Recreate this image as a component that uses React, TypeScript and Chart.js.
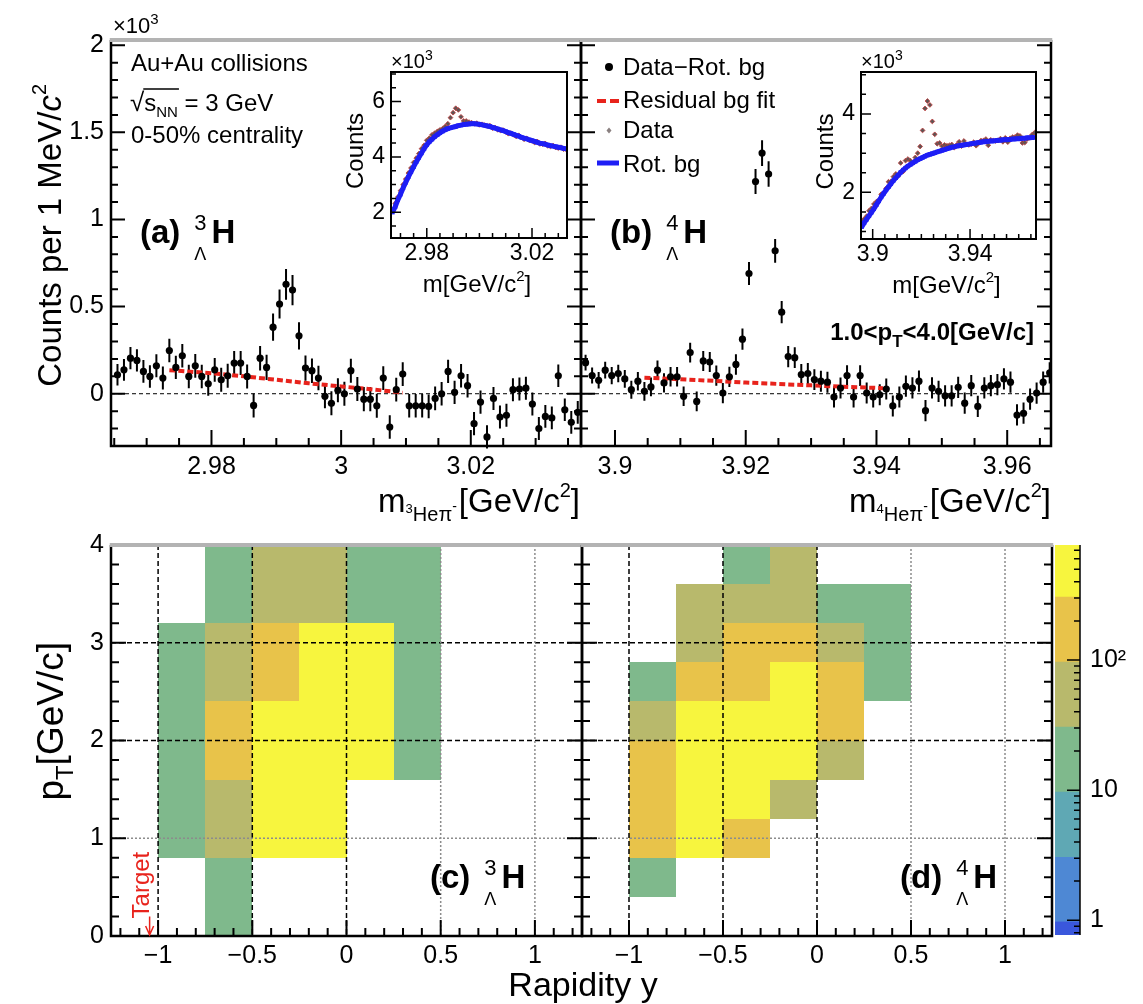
import { useEffect, useRef } from "react";
import { Chart, registerables } from "chart.js";

Chart.register(...registerables);

const PAGE_W = 1143;
const PAGE_H = 1004;
const FONT = '"Liberation Sans", Arimo, Arial, Helvetica, sans-serif';
const RED = "#e8231c";
const BLUE = "#1e1ef5";
const FRAME_TOP = "#b3b3b3";
// thickness reserved for an axis that carries tick labels
const AXIS_BAND = 60;

/* ---------- invariant-mass spectra, 1 MeV/c² bins, counts ×10³ ---------- */
const BIN = 0.001;

const H3L_FIRST_BIN = 2.9655;
const H3L_SIGNAL = [
  0.109, 0.137, 0.204, 0.191, 0.128, 0.099, 0.16, 0.09, 0.248, 0.151,
  0.218, 0.099, 0.16, 0.099, 0.057, 0.137, 0.08, 0.103, 0.176, 0.176,
  0.099, -0.067, 0.204, 0.151, 0.382, 0.515, 0.628, 0.595, 0.332, 0.147,
  0.132, 0.09, -0.015, -0.055, 0.02, 0.0, 0.132, 0.027, -0.031, -0.031,
  -0.069, 0.09, -0.191, 0.023, 0.113, -0.069, -0.069, -0.069, -0.073, -0.027,
  0.0, 0.128, 0.008, 0.103, 0.046, -0.172, -0.048, -0.248, -0.027, -0.134,
  -0.124, 0.023, 0.027, 0.032, -0.059, -0.2, -0.13, -0.139, 0.103, -0.092,
  -0.164, -0.107,
];
const H3L_SIGNAL_ERR = [
  0.062, 0.063, 0.064, 0.064, 0.065, 0.065, 0.066, 0.066, 0.067, 0.067,
  0.067, 0.068, 0.068, 0.068, 0.068, 0.068, 0.069, 0.069, 0.069, 0.069,
  0.069, 0.069, 0.07, 0.072, 0.078, 0.083, 0.088, 0.087, 0.078, 0.072,
  0.07, 0.07, 0.069, 0.069, 0.069, 0.069, 0.069, 0.069, 0.069, 0.069,
  0.069, 0.068, 0.068, 0.068, 0.068, 0.068, 0.068, 0.068, 0.068, 0.068,
  0.067, 0.067, 0.067, 0.067, 0.067, 0.067, 0.067, 0.067, 0.066, 0.066,
  0.066, 0.066, 0.066, 0.066, 0.066, 0.066, 0.065, 0.065, 0.065, 0.065,
  0.065, 0.065,
];
const H3L_RESID_M = [2.9735, 2.98, 2.985, 2.99, 2.995, 3.0, 3.005, 3.0095];
const H3L_RESID_Y = [0.135, 0.118, 0.1, 0.08, 0.06, 0.042, 0.024, 0.006];

const H4L_FIRST_BIN = 3.8955;
const H4L_SIGNAL = [
  0.178, 0.104, 0.077, 0.135, 0.104, 0.116, 0.085, 0.023, 0.072, 0.014,
  0.039, 0.135, 0.062, 0.097, 0.097, -0.015, 0.236, -0.044, 0.188, 0.182,
  0.104, 0.004, 0.097, 0.168, 0.313, 0.69, 1.218, 1.381, 1.261, 0.82,
  0.468, 0.213, 0.207, 0.11, 0.116, 0.081, 0.072, 0.066, -0.019, 0.033,
  0.104, -0.019, 0.104, 0.004, -0.019, -0.006, 0.027, -0.07, -0.019, 0.043,
  0.033, 0.072, -0.097, 0.033, 0.014, -0.012, -0.012, 0.037, -0.054, 0.046,
  -0.073, 0.033, 0.046, 0.052, 0.085, 0.066, -0.122, -0.112, -0.031, 0.004,
  0.066, 0.12,
];
const H4L_SIGNAL_ERR = [
  0.045, 0.046, 0.047, 0.048, 0.049, 0.05, 0.051, 0.052, 0.053, 0.054,
  0.054, 0.055, 0.055, 0.056, 0.056, 0.056, 0.057, 0.057, 0.057, 0.057,
  0.058, 0.058, 0.058, 0.059, 0.061, 0.066, 0.072, 0.074, 0.073, 0.068,
  0.064, 0.061, 0.06, 0.06, 0.06, 0.06, 0.06, 0.06, 0.06, 0.06,
  0.06, 0.06, 0.06, 0.06, 0.06, 0.06, 0.06, 0.06, 0.06, 0.061,
  0.061, 0.061, 0.061, 0.061, 0.061, 0.061, 0.061, 0.061, 0.061, 0.061,
  0.061, 0.061, 0.061, 0.061, 0.061, 0.061, 0.061, 0.061, 0.061, 0.061,
  0.061, 0.061,
];
const H4L_RESID_M = [3.9045, 3.91, 3.915, 3.92, 3.925, 3.93, 3.935, 3.941];
const H4L_RESID_Y = [0.092, 0.083, 0.074, 0.064, 0.056, 0.048, 0.04, 0.032];

/* ---------- inset spectra: data and rotated background, counts ×10³ ---------- */
const H3L_INSET_FIRST_BIN = 2.967;
const H3L_INSET_DATA = [
  2.1, 2.32, 2.55, 2.78, 3.0, 3.2, 3.42, 3.6, 3.8, 3.96,
  4.12, 4.3, 4.42, 4.6, 4.68, 4.8, 4.86, 4.92, 4.98, 5.02,
  5.1, 5.2, 5.42, 5.6, 5.76, 5.7, 5.45, 5.3, 5.3, 5.26,
  5.24, 5.2, 5.22, 5.16, 5.18, 5.15, 5.12, 5.13, 5.04, 5.06,
  4.98, 4.96, 4.97, 4.9, 4.84, 4.86, 4.8, 4.74, 4.78, 4.7,
  4.64, 4.67, 4.6, 4.58, 4.52, 4.56, 4.47, 4.46, 4.49, 4.4,
  4.38, 4.41, 4.34, 4.32, 4.35, 4.28, 4.27,
];
const H3L_INSET_ROTBG = [
  2.0, 2.2, 2.45, 2.65, 2.88, 3.08, 3.28, 3.46, 3.64, 3.82,
  3.98, 4.14, 4.3, 4.44, 4.55, 4.64, 4.73, 4.8, 4.87, 4.93,
  4.98, 5.02, 5.05, 5.08, 5.1, 5.13, 5.15, 5.17, 5.18, 5.19,
  5.2, 5.2, 5.19, 5.18, 5.16, 5.14, 5.12, 5.1, 5.07, 5.04,
  5.01, 4.98, 4.95, 4.92, 4.88, 4.85, 4.82, 4.78, 4.75, 4.71,
  4.68, 4.65, 4.62, 4.59, 4.56, 4.53, 4.5, 4.48, 4.46, 4.43,
  4.41, 4.39, 4.37, 4.35, 4.33, 4.31, 4.29,
];
const H4L_INSET_FIRST_BIN = 3.8955;
const H4L_INSET_DATA = [
  1.28, 1.32, 1.39, 1.53, 1.59, 1.7, 1.76, 1.8, 1.95, 1.98,
  2.1, 2.27, 2.28, 2.4, 2.47, 2.42, 2.75, 2.53, 2.81, 2.85,
  2.81, 2.75, 2.89, 3.0, 3.17, 3.58, 4.14, 4.33, 4.23, 3.81,
  3.48, 3.24, 3.26, 3.18, 3.21, 3.19, 3.2, 3.22, 3.14, 3.21,
  3.29, 3.18, 3.31, 3.22, 3.21, 3.23, 3.28, 3.19, 3.25, 3.32,
  3.32, 3.36, 3.2, 3.34, 3.32, 3.31, 3.32, 3.37, 3.29, 3.39,
  3.28, 3.38, 3.41, 3.41, 3.46, 3.44, 3.26, 3.27, 3.36, 3.39,
  3.47, 3.52,
];
const H4L_INSET_ROTBG = [
  1.12, 1.22, 1.31, 1.4, 1.49, 1.58, 1.68, 1.78, 1.88, 1.97,
  2.06, 2.14, 2.22, 2.3, 2.37, 2.44, 2.51, 2.57, 2.62, 2.67,
  2.71, 2.75, 2.79, 2.83, 2.86, 2.89, 2.92, 2.95, 2.97, 2.99,
  3.01, 3.03, 3.05, 3.07, 3.09, 3.11, 3.13, 3.15, 3.16, 3.18,
  3.19, 3.2, 3.21, 3.22, 3.23, 3.24, 3.25, 3.26, 3.27, 3.28,
  3.29, 3.29, 3.3, 3.31, 3.31, 3.32, 3.33, 3.33, 3.34, 3.34,
  3.35, 3.35, 3.36, 3.36, 3.37, 3.37, 3.38, 3.38, 3.39, 3.39,
  3.4, 3.4,
];

/* ---------- pT vs rapidity yield maps (rows: low → high pT) ---------- */
const RAPIDITY_EDGES = [-1, -0.75, -0.5, -0.25, 0, 0.25, 0.5];
const H3L_PT_EDGES = [0, 0.8, 1.6, 2.4, 3.2, 4.0];
const H3L_YIELD = [
  [0, 14, 0, 0, 0, 0],
  [19, 62, 420, 470, 0, 0],
  [26, 180, 610, 690, 380, 22],
  [17, 75, 240, 520, 340, 16],
  [0, 12, 48, 41, 21, 11],
];
const H4L_PT_EDGES = [0, 0.4, 0.8, 1.2, 1.6, 2.0, 2.4, 2.8, 3.2, 3.6, 4.0];
const H4L_YIELD = [
  [0, 0, 0, 0, 0, 0],
  [15, 0, 0, 0, 0, 0],
  [150, 360, 130, 0, 0, 0],
  [210, 520, 430, 70, 0, 0],
  [260, 640, 700, 480, 55, 0],
  [80, 580, 650, 560, 190, 0],
  [20, 230, 280, 400, 120, 14],
  [0, 60, 200, 160, 45, 18],
  [0, 50, 42, 38, 20, 12],
  [0, 0, 19, 35, 0, 0],
];
const TARGET_RAPIDITY = -1.045;
const Z_LEVELS = [0.77, 0.97, 3.05, 9.66, 30.5, 96.5, 305, 767];
const Z_COLORS = ["#3a57dc", "#4e88d4", "#5fa8b4", "#7fb98c", "#b8b96c", "#e8c34a", "#f7f53e"];

/* ---------- axis ranges, tick values and labels ---------- */
const COUNT_RANGE = [-0.3, 2.03];
const COUNT_TICKS = [0, 0.5, 1, 1.5, 2];
const COUNT_LABELS = ["0", "0.5", "1", "1.5", "2"];
const H3L_M_RANGE = [2.9645, 3.037];
const H3L_M_TICKS = [2.98, 3.0, 3.02];
const H3L_M_LABELS = ["2.98", "3", "3.02"];
const H4L_M_RANGE = [3.8948, 3.9667];
const H4L_M_TICKS = [3.9, 3.92, 3.94, 3.96];
const H4L_M_LABELS = ["3.9", "3.92", "3.94", "3.96"];

const H3L_INSET_X_RANGE = [2.9664, 3.0333];
const H3L_INSET_Y_RANGE = [1.07, 7.07];
const H3L_INSET_X_TICKS = [2.98, 3.02];
const H3L_INSET_X_LABELS = ["2.98", "3.02"];
const H3L_INSET_Y_TICKS = [2, 4, 6];
const H3L_INSET_Y_LABELS = ["2", "4", "6"];
const H4L_INSET_X_RANGE = [3.8952, 3.9671];
const H4L_INSET_Y_RANGE = [0.81, 5.07];
const H4L_INSET_X_TICKS = [3.9, 3.94];
const H4L_INSET_X_LABELS = ["3.9", "3.94"];
const H4L_INSET_Y_TICKS = [2, 4];
const H4L_INSET_Y_LABELS = ["2", "4"];

const RAPIDITY_RANGE = [-1.25, 1.25];
const RAPIDITY_TICKS = [-1, -0.5, 0, 0.5, 1];
const RAPIDITY_LABELS = ["\u22121", "\u22120.5", "0", "0.5", "1"];
const PT_RANGE = [0, 4];
const PT_TICKS = [0, 1, 2, 3, 4];
const PT_LABELS = ["0", "1", "2", "3", "4"];
const Z_TICKS = [1, 10, 100];
const Z_LABELS = ["1", "10", "10\u00b2"];

// grid lines on the yield maps
const GRID_DASHED_Y = [-1, -0.5, 0];
const GRID_DOTTED_Y = [0.5, 1];
const GRID_DASHED_PT = [2, 3];
const GRID_DOTTED_PT = [1];

/* ---------- layout (plot-area boxes in page pixels) ---------- */
type Box = { l: number; r: number; t: number; b: number };
const BOX_A: Box = { l: 111, r: 581, t: 40, b: 446 };
const BOX_B: Box = { l: 581, r: 1051, t: 40, b: 446 };
const BOX_IA: Box = { l: 391, r: 567, t: 72, b: 238 };
const BOX_IB: Box = { l: 861, r: 1036, t: 72, b: 239 };
const BOX_C: Box = { l: 111, r: 582, t: 545, b: 936 };
const BOX_D: Box = { l: 582, r: 1052, t: 545, b: 936 };
const BOX_Z: Box = { l: 1055, r: 1080, t: 545, b: 935 };

// layout padding so that the plot area lands on the box, leaving room for labelled axes
function padOf(b: Box, band: { left?: number; right?: number; bottom?: number }) {
  return {
    left: b.l - (band.left ?? 0),
    top: b.t,
    right: PAGE_W - b.r - (band.right ?? 0),
    bottom: PAGE_H - b.b - (band.bottom ?? 0),
  };
}

type AxisOpts = {
  min: number;
  max: number;
  ticks: number[];
  labels?: string[];
  pad?: number;
  size?: number;
  position?: string;
  type?: string;
};

function fixedAxis(o: AxisOpts) {
  const band = o.labels ? AXIS_BAND : 0;
  const ax: any = {
    type: o.type ?? "linear",
    min: o.min,
    max: o.max,
    bounds: "data",
    afterFit: (s: any) => {
      if (s.isHorizontal()) s.height = band;
      else s.width = band;
    },
    afterBuildTicks: (s: any) => {
      s.ticks = o.ticks.map((v) => ({ value: v }));
    },
    grid: { display: false, drawTicks: false },
    border: { display: false },
    ticks: {
      display: !!o.labels,
      autoSkip: false,
      maxRotation: 0,
      minRotation: 0,
      padding: o.pad ?? 6,
      color: "#000",
      font: { family: FONT, size: o.size ?? 25 },
      callback: (_v: any, i: number) => (o.labels ? o.labels[i] : ""),
    },
  };
  if (o.position) ax.position = o.position;
  return ax;
}

function baseOptions(padding: any) {
  return {
    responsive: false,
    animation: false as const,
    events: [] as any[],
    layout: { padding },
    plugins: {
      legend: { display: false },
      tooltip: { enabled: false },
      title: { display: false },
    },
  };
}

/* ---------- text helpers ---------- */
type Seg = {
  t: string;
  size: number;
  dy?: number;
  bold?: boolean;
  italic?: boolean;
  stack?: boolean;
  gap?: number;
};

function fontOf(s: Seg) {
  return `${s.italic ? "italic " : ""}${s.bold ? "bold " : ""}${s.size}px ${FONT}`;
}

function drawRich(ctx: any, x: number, y: number, segs: Seg[], align = "left", color = "#000") {
  let cx = 0;
  let lastStart = 0;
  let lastW = 0;
  const items: { s: Seg; x: number; w: number }[] = [];
  for (const s of segs) {
    ctx.font = fontOf(s);
    const w = ctx.measureText(s.t).width;
    if (s.stack) {
      items.push({ s, x: lastStart, w });
      lastW = Math.max(lastW, w);
      cx = lastStart + lastW;
    } else {
      const start = cx + (s.gap ?? 0);
      items.push({ s, x: start, w });
      lastStart = start;
      lastW = w;
      cx = start + w;
    }
  }
  const x0 = align === "left" ? x : align === "right" ? x - cx : x - cx / 2;
  ctx.save();
  ctx.fillStyle = color;
  ctx.textAlign = "left";
  ctx.textBaseline = "alphabetic";
  for (const it of items) {
    ctx.font = fontOf(it.s);
    ctx.fillText(it.s.t, x0 + it.x, y + (it.s.dy ?? 0));
  }
  ctx.restore();
  return { x0, width: cx, items };
}

function drawRichUp(ctx: any, x: number, y: number, segs: Seg[], align = "left", color = "#000") {
  ctx.save();
  ctx.translate(x, y);
  ctx.rotate(-Math.PI / 2);
  drawRich(ctx, 0, 0, segs, align, color);
  ctx.restore();
}

function hypLabel(tag: string, a: string): Seg[] {
  return [
    { t: tag, size: 33, bold: true },
    { t: a, size: 22, dy: -13, gap: 14 },
    { t: "\u039b", size: 18, dy: 17, stack: true },
    { t: "H", size: 33, bold: true, gap: 5 },
  ];
}

function massTitle(a: string): Seg[] {
  return [
    { t: "m", size: 33 },
    { t: a, size: 13, dy: 1 },
    { t: "He", size: 20, dy: 9 },
    { t: "\u03c0", size: 20, dy: 9 },
    { t: "-", size: 14, dy: -1 },
    { t: "[GeV/c", size: 33, gap: 2 },
    { t: "2", size: 20, dy: -15 },
    { t: "]", size: 33 },
  ];
}

/* ---------- drawing helpers ---------- */
function drawFrame(chart: any, topColor: string, width = 2.5, topWidth = 4) {
  const { ctx, chartArea: a } = chart;
  ctx.save();
  ctx.setLineDash([]);
  ctx.strokeStyle = "#000";
  ctx.lineWidth = width;
  ctx.beginPath();
  ctx.moveTo(a.left, a.top);
  ctx.lineTo(a.left, a.bottom);
  ctx.lineTo(a.right, a.bottom);
  ctx.lineTo(a.right, a.top);
  ctx.stroke();
  ctx.strokeStyle = topColor;
  ctx.lineWidth = topWidth;
  ctx.beginPath();
  ctx.moveTo(a.left - width / 2, a.top);
  ctx.lineTo(a.right + width / 2, a.top);
  ctx.stroke();
  ctx.restore();
}

function drawTickMarks(
  chart: any,
  axisId: string,
  sides: string[],
  step: number,
  majors: number[],
  majorLen: number,
  minorLen: number,
  lw = 2,
) {
  const { ctx, chartArea: a } = chart;
  const s = chart.scales[axisId];
  const k0 = Math.ceil(s.min / step - 1e-6);
  const k1 = Math.floor(s.max / step + 1e-6);
  ctx.save();
  ctx.setLineDash([]);
  ctx.strokeStyle = "#000";
  ctx.lineWidth = lw;
  ctx.beginPath();
  for (let k = k0; k <= k1; k++) {
    const v = k * step;
    const major = majors.some((m) => Math.abs(m - v) < step * 1e-3);
    const len = major ? majorLen : minorLen;
    const p = s.getPixelForValue(v);
    const edgeLo = s.isHorizontal() ? a.left : a.top;
    const edgeHi = s.isHorizontal() ? a.right : a.bottom;
    if (Math.abs(p - edgeLo) < 1.5 || Math.abs(p - edgeHi) < 1.5) continue;
    for (const side of sides) {
      if (side === "left") {
        ctx.moveTo(a.left, p);
        ctx.lineTo(a.left + len, p);
      } else if (side === "right") {
        ctx.moveTo(a.right, p);
        ctx.lineTo(a.right - len, p);
      } else {
        ctx.moveTo(p, a.bottom);
        ctx.lineTo(p, a.bottom - len);
      }
    }
  }
  ctx.stroke();
  ctx.restore();
}

/* ---------- chart builders ---------- */
type MassPanel = {
  box: Box;
  xRange: number[];
  first: number;
  signal: number[];
  err: number[];
  fitM: number[];
  fitY: number[];
  xTicks: number[];
  xLabels: string[];
  yLabels?: string[];
  decorate: (chart: any) => void;
};

function massPanel(canvas: HTMLCanvasElement, p: MassPanel) {
  const points = p.signal.map((y, i) => ({ x: p.first + i * BIN, y }));
  const fit = p.fitM.map((x, i) => ({ x, y: p.fitY[i] }));
  const padding = padOf(p.box, { left: p.yLabels ? AXIS_BAND : 0, bottom: AXIS_BAND });
  return new Chart(canvas, {
    type: "scatter",
    data: {
      datasets: [
        {
          data: points,
          pointRadius: 3.6,
          pointHoverRadius: 3.6,
          pointBackgroundColor: "#000",
          pointBorderWidth: 0,
        },
        {
          type: "line",
          data: fit,
          borderColor: RED,
          borderWidth: 4,
          borderDash: [6, 3],
          pointRadius: 0,
          fill: false,
          tension: 0,
        },
      ],
    } as any,
    options: {
      ...baseOptions(padding),
      scales: {
        x: fixedAxis({ min: p.xRange[0], max: p.xRange[1], ticks: p.xTicks, labels: p.xLabels, pad: 6 }),
        y: fixedAxis({ min: COUNT_RANGE[0], max: COUNT_RANGE[1], ticks: COUNT_TICKS, labels: p.yLabels, pad: 7 }),
      },
    } as any,
    plugins: [
      {
        id: "massPanelDecor",
        beforeDatasetsDraw(chart: any) {
          const { ctx, chartArea: a } = chart;
          const xs = chart.scales.x;
          const ys = chart.scales.y;
          ctx.save();
          ctx.strokeStyle = "#000";
          ctx.lineWidth = 1;
          ctx.setLineDash([4, 3]);
          const y0 = ys.getPixelForValue(0);
          ctx.beginPath();
          ctx.moveTo(a.left, y0);
          ctx.lineTo(a.right, y0);
          ctx.stroke();
          ctx.setLineDash([]);
          ctx.lineWidth = 2;
          ctx.beginPath();
          p.signal.forEach((v, i) => {
            const px = xs.getPixelForValue(p.first + i * BIN);
            ctx.moveTo(px, ys.getPixelForValue(v - p.err[i]));
            ctx.lineTo(px, ys.getPixelForValue(v + p.err[i]));
          });
          ctx.stroke();
          ctx.restore();
        },
        afterDraw(chart: any) {
          drawFrame(chart, FRAME_TOP);
          drawTickMarks(chart, "y", ["left", "right"], 0.1, COUNT_TICKS, 14, 7);
          drawTickMarks(chart, "x", ["bottom"], 0.005, p.xTicks, 16, 8);
          p.decorate(chart);
        },
      },
    ],
  });
}

type InsetPanel = {
  box: Box;
  xRange: number[];
  yRange: number[];
  first: number;
  data: number[];
  rotbg: number[];
  xTicks: number[];
  xLabels: string[];
  yTicks: number[];
  yLabels: string[];
};

function insetPanel(canvas: HTMLCanvasElement, p: InsetPanel) {
  const dataPts = p.data.map((y, i) => ({ x: p.first + i * BIN, y }));
  const bgPts = p.rotbg.map((y, i) => ({ x: p.first + i * BIN, y }));
  const padding = padOf(p.box, { left: AXIS_BAND, bottom: AXIS_BAND });
  return new Chart(canvas, {
    type: "scatter",
    data: {
      datasets: [
        {
          type: "line",
          data: bgPts,
          borderColor: BLUE,
          borderWidth: 5,
          pointStyle: "rect",
          pointRadius: 3,
          pointBackgroundColor: BLUE,
          pointBorderWidth: 0,
          fill: false,
          tension: 0,
        },
        {
          data: dataPts,
          pointStyle: "rectRot",
          pointRadius: 2.4,
          pointBackgroundColor: "#5e5555",
          pointBorderColor: "#c23a3a",
          pointBorderWidth: 0.8,
        },
      ],
    } as any,
    options: {
      ...baseOptions(padding),
      scales: {
        x: fixedAxis({ min: p.xRange[0], max: p.xRange[1], ticks: p.xTicks, labels: p.xLabels, pad: 2, size: 23 }),
        y: fixedAxis({ min: p.yRange[0], max: p.yRange[1], ticks: p.yTicks, labels: p.yLabels, pad: 6, size: 23 }),
      },
    } as any,
    plugins: [
      {
        id: "insetDecor",
        beforeDraw(chart: any) {
          const { ctx, chartArea: a } = chart;
          ctx.save();
          ctx.fillStyle = "#fff";
          ctx.fillRect(a.left, a.top, a.right - a.left, a.bottom - a.top);
          ctx.restore();
        },
        afterDraw(chart: any) {
          const { ctx, chartArea: a } = chart;
          drawFrame(chart, "#000", 2, 2);
          drawTickMarks(chart, "x", ["bottom"], 0.005, p.xTicks, 10, 5, 1.5);
          drawTickMarks(chart, "y", ["left"], 0.5, p.yTicks, 10, 5, 1.5);
          drawRich(ctx, a.left, a.top - 4, [
            { t: "\u00d710", size: 20 },
            { t: "3", size: 14, dy: -8 },
          ]);
          drawRichUp(ctx, a.left - 28, (a.top + a.bottom) / 2 - 4, [{ t: "Counts", size: 24 }], "center");
          drawRich(
            ctx,
            (a.left + a.right) / 2 - 2,
            a.bottom + 54,
            [
              { t: "m[GeV/", size: 24 },
              { t: "c", size: 24 },
              { t: "2", size: 15, dy: -11 },
              { t: "]", size: 24 },
            ],
            "center",
          );
        },
      },
    ],
  });
}

function colorFor(v: number) {
  for (let i = 0; i < Z_COLORS.length; i++) {
    if (v < Z_LEVELS[i + 1]) return Z_COLORS[i];
  }
  return Z_COLORS[Z_COLORS.length - 1];
}

type HeatPanel = {
  box: Box;
  ptEdges: number[];
  yields: number[][];
  yLabels?: string[];
  decorate: (chart: any) => void;
};

function heatPanel(canvas: HTMLCanvasElement, p: HeatPanel) {
  const padding = padOf(p.box, { left: p.yLabels ? AXIS_BAND : 0, bottom: AXIS_BAND });
  return new Chart(canvas, {
    type: "scatter",
    data: { datasets: [] },
    options: {
      ...baseOptions(padding),
      scales: {
        x: fixedAxis({
          min: RAPIDITY_RANGE[0],
          max: RAPIDITY_RANGE[1],
          ticks: RAPIDITY_TICKS,
          labels: RAPIDITY_LABELS,
          pad: 5,
        }),
        y: fixedAxis({ min: PT_RANGE[0], max: PT_RANGE[1], ticks: PT_TICKS, labels: p.yLabels, pad: 7 }),
      },
    } as any,
    plugins: [
      {
        id: "heatDecor",
        beforeDatasetsDraw(chart: any) {
          const { ctx, chartArea: a } = chart;
          const xs = chart.scales.x;
          const ys = chart.scales.y;
          ctx.save();
          p.yields.forEach((row, r) => {
            row.forEach((v, c) => {
              if (v <= 0) return;
              const x0 = Math.round(xs.getPixelForValue(RAPIDITY_EDGES[c]));
              const x1 = Math.round(xs.getPixelForValue(RAPIDITY_EDGES[c + 1]));
              const y0 = Math.round(ys.getPixelForValue(p.ptEdges[r]));
              const y1 = Math.round(ys.getPixelForValue(p.ptEdges[r + 1]));
              ctx.fillStyle = colorFor(v);
              ctx.fillRect(x0, y1, x1 - x0, y0 - y1);
            });
          });
          // grid
          ctx.lineWidth = 1.5;
          ctx.strokeStyle = "#000";
          ctx.setLineDash([5, 3]);
          ctx.beginPath();
          GRID_DASHED_Y.forEach((v) => {
            const x = xs.getPixelForValue(v);
            ctx.moveTo(x, a.top);
            ctx.lineTo(x, a.bottom);
          });
          GRID_DASHED_PT.forEach((v) => {
            const y = ys.getPixelForValue(v);
            ctx.moveTo(a.left, y);
            ctx.lineTo(a.right, y);
          });
          ctx.stroke();
          ctx.strokeStyle = "#8c8c8c";
          ctx.setLineDash([2, 2]);
          ctx.beginPath();
          GRID_DOTTED_Y.forEach((v) => {
            const x = xs.getPixelForValue(v);
            ctx.moveTo(x, a.top);
            ctx.lineTo(x, a.bottom);
          });
          GRID_DOTTED_PT.forEach((v) => {
            const y = ys.getPixelForValue(v);
            ctx.moveTo(a.left, y);
            ctx.lineTo(a.right, y);
          });
          ctx.stroke();
          ctx.restore();
        },
        afterDraw(chart: any) {
          drawFrame(chart, FRAME_TOP);
          drawTickMarks(chart, "y", ["left", "right"], 0.2, PT_TICKS, 15, 8);
          drawTickMarks(chart, "x", ["bottom"], 0.1, RAPIDITY_TICKS, 16, 8);
          p.decorate(chart);
        },
      },
    ],
  });
}

function colorBar(canvas: HTMLCanvasElement) {
  return new Chart(canvas, {
    type: "bar",
    data: {
      labels: [""],
      datasets: Z_COLORS.map((c, i) => ({
        data: [[Z_LEVELS[i], Z_LEVELS[i + 1]]],
        backgroundColor: c,
        borderWidth: 0,
        barPercentage: 1,
        categoryPercentage: 1,
        grouped: false,
      })),
    } as any,
    options: {
      ...baseOptions(padOf(BOX_Z, { right: AXIS_BAND })),
      scales: {
        x: { display: false },
        y: fixedAxis({
          type: "logarithmic",
          position: "right",
          min: Z_LEVELS[0],
          max: Z_LEVELS[Z_LEVELS.length - 1],
          ticks: Z_TICKS,
          labels: Z_LABELS,
          pad: 10,
        }),
      },
    } as any,
    plugins: [
      {
        id: "zAxisDecor",
        afterDraw(chart: any) {
          const { ctx, chartArea: a } = chart;
          const ys = chart.scales.y;
          ctx.save();
          ctx.strokeStyle = "#000";
          ctx.lineWidth = 1.5;
          ctx.beginPath();
          ctx.moveTo(a.right, a.top);
          ctx.lineTo(a.right, a.bottom);
          for (let e = -1; e <= 2; e++) {
            for (let m = 1; m <= 9; m++) {
              const v = m * Math.pow(10, e);
              if (v < ys.min || v > ys.max) continue;
              const p = ys.getPixelForValue(v);
              const len = m === 1 ? 13 : 6;
              ctx.moveTo(a.right, p);
              ctx.lineTo(a.right - len, p);
            }
          }
          ctx.stroke();
          ctx.restore();
        },
      },
    ],
  });
}

/* ---------- panel annotations ---------- */
function decorateA(chart: any) {
  const ctx = chart.ctx;
  drawRich(ctx, 113, 33, [
    { t: "\u00d710", size: 22 },
    { t: "3", size: 15, dy: -9 },
  ]);
  drawRich(ctx, 131, 71, [{ t: "Au+Au collisions", size: 24 }]);
  const r = drawRich(ctx, 130, 111, [
    { t: "\u221a", size: 26 },
    { t: "s", size: 24 },
    { t: "NN", size: 15, dy: 6 },
    { t: " = 3 GeV", size: 24 },
  ]);
  ctx.save();
  ctx.strokeStyle = "#000";
  ctx.lineWidth = 1.5;
  ctx.beginPath();
  ctx.moveTo(r.x0 + r.items[1].x - 1, 89);
  ctx.lineTo(r.x0 + r.items[2].x + r.items[2].w + 1, 89);
  ctx.stroke();
  ctx.restore();
  drawRich(ctx, 131, 143, [{ t: "0-50% centrality", size: 24 }]);
  drawRich(ctx, 140, 243, hypLabel("(a)", "3"));
  drawRich(ctx, 580, 512, massTitle("3"), "right");
  drawRichUp(
    ctx,
    61,
    84,
    [
      { t: "Counts per 1 MeV/", size: 33 },
      { t: "c", size: 33, italic: true },
      { t: "2", size: 20, dy: -15 },
    ],
    "right",
  );
}

function decorateB(chart: any) {
  const ctx = chart.ctx;
  ctx.save();
  ctx.fillStyle = "#000";
  ctx.beginPath();
  ctx.arc(609, 67, 4, 0, Math.PI * 2);
  ctx.fill();
  ctx.strokeStyle = RED;
  ctx.lineWidth = 4;
  ctx.setLineDash([9, 4]);
  ctx.beginPath();
  ctx.moveTo(597, 101);
  ctx.lineTo(619, 101);
  ctx.stroke();
  ctx.setLineDash([]);
  ctx.fillStyle = "#8a8080";
  ctx.beginPath();
  ctx.moveTo(609, 127.5);
  ctx.lineTo(611.5, 130.5);
  ctx.lineTo(609, 133.5);
  ctx.lineTo(606.5, 130.5);
  ctx.closePath();
  ctx.fill();
  ctx.strokeStyle = BLUE;
  ctx.lineWidth = 5;
  ctx.beginPath();
  ctx.moveTo(597, 163);
  ctx.lineTo(619, 163);
  ctx.stroke();
  ctx.restore();
  drawRich(ctx, 623, 75, [{ t: "Data\u2212Rot. bg", size: 24 }]);
  drawRich(ctx, 623, 108, [{ t: "Residual bg fit", size: 24 }]);
  drawRich(ctx, 623, 138, [{ t: "Data", size: 24 }]);
  drawRich(ctx, 623, 172, [{ t: "Rot. bg", size: 24 }]);
  drawRich(ctx, 610, 243, hypLabel("(b)", "4"));
  drawRich(
    ctx,
    1034,
    340,
    [
      { t: "1.0<p", size: 24, bold: true },
      { t: "T", size: 17, bold: true, dy: 7 },
      { t: "<4.0[GeV/c]", size: 24, bold: true },
    ],
    "right",
  );
  drawRich(ctx, 1051, 512, massTitle("4"), "right");
}

function decorateC(chart: any) {
  const ctx = chart.ctx;
  const xs = chart.scales.x;
  const ys = chart.scales.y;
  drawRich(ctx, 430, 888, hypLabel("(c)", "3"));
  // target rapidity marker
  const ax = xs.getPixelForValue(TARGET_RAPIDITY);
  const yTop = ys.getPixelForValue(0.2);
  const yTip = ys.getPixelForValue(0);
  ctx.save();
  ctx.strokeStyle = RED;
  ctx.lineWidth = 1.5;
  ctx.beginPath();
  ctx.moveTo(ax, yTop);
  ctx.lineTo(ax, yTip - 1);
  ctx.moveTo(ax - 4, yTip - 10);
  ctx.lineTo(ax, yTip - 1);
  ctx.lineTo(ax + 4, yTip - 10);
  ctx.stroke();
  ctx.restore();
  drawRichUp(ctx, ax - 1, yTop + 2, [{ t: "Target", size: 24 }], "left", RED);
  drawRichUp(
    ctx,
    63,
    642,
    [
      { t: "p", size: 37 },
      { t: "T", size: 24, dy: 10 },
      { t: "[GeV/c]", size: 37 },
    ],
    "right",
  );
  drawRich(ctx, 583, 996, [{ t: "Rapidity y", size: 34 }], "center");
}

function decorateD(chart: any) {
  drawRich(chart.ctx, 900, 888, hypLabel("(d)", "4"));
}

export default function App() {
  const wrapRef = useRef<HTMLDivElement>(null);

  useEffect(() => {
    const canvases = Array.from(wrapRef.current!.querySelectorAll("canvas")) as HTMLCanvasElement[];
    const charts = [
      massPanel(canvases[0], {
        box: BOX_A,
        xRange: H3L_M_RANGE,
        first: H3L_FIRST_BIN,
        signal: H3L_SIGNAL,
        err: H3L_SIGNAL_ERR,
        fitM: H3L_RESID_M,
        fitY: H3L_RESID_Y,
        xTicks: H3L_M_TICKS,
        xLabels: H3L_M_LABELS,
        yLabels: COUNT_LABELS,
        decorate: decorateA,
      }),
      massPanel(canvases[1], {
        box: BOX_B,
        xRange: H4L_M_RANGE,
        first: H4L_FIRST_BIN,
        signal: H4L_SIGNAL,
        err: H4L_SIGNAL_ERR,
        fitM: H4L_RESID_M,
        fitY: H4L_RESID_Y,
        xTicks: H4L_M_TICKS,
        xLabels: H4L_M_LABELS,
        decorate: decorateB,
      }),
      insetPanel(canvases[2], {
        box: BOX_IA,
        xRange: H3L_INSET_X_RANGE,
        yRange: H3L_INSET_Y_RANGE,
        first: H3L_INSET_FIRST_BIN,
        data: H3L_INSET_DATA,
        rotbg: H3L_INSET_ROTBG,
        xTicks: H3L_INSET_X_TICKS,
        xLabels: H3L_INSET_X_LABELS,
        yTicks: H3L_INSET_Y_TICKS,
        yLabels: H3L_INSET_Y_LABELS,
      }),
      insetPanel(canvases[3], {
        box: BOX_IB,
        xRange: H4L_INSET_X_RANGE,
        yRange: H4L_INSET_Y_RANGE,
        first: H4L_INSET_FIRST_BIN,
        data: H4L_INSET_DATA,
        rotbg: H4L_INSET_ROTBG,
        xTicks: H4L_INSET_X_TICKS,
        xLabels: H4L_INSET_X_LABELS,
        yTicks: H4L_INSET_Y_TICKS,
        yLabels: H4L_INSET_Y_LABELS,
      }),
      heatPanel(canvases[4], {
        box: BOX_C,
        ptEdges: H3L_PT_EDGES,
        yields: H3L_YIELD,
        yLabels: PT_LABELS,
        decorate: decorateC,
      }),
      heatPanel(canvases[5], {
        box: BOX_D,
        ptEdges: H4L_PT_EDGES,
        yields: H4L_YIELD,
        decorate: decorateD,
      }),
      colorBar(canvases[6]),
    ];
    return () => charts.forEach((c) => c.destroy());
  }, []);

  return (
    <div
      ref={wrapRef}
      style={{
        position: "absolute",
        left: 0,
        top: 0,
        width: PAGE_W,
        height: PAGE_H,
        background: "#fff",
        overflow: "hidden",
      }}
    >
      {[0, 1, 2, 3, 4, 5, 6].map((i) => (
        <canvas
          key={i}
          width={PAGE_W}
          height={PAGE_H}
          style={{ position: "absolute", left: 0, top: 0 }}
        />
      ))}
    </div>
  );
}
